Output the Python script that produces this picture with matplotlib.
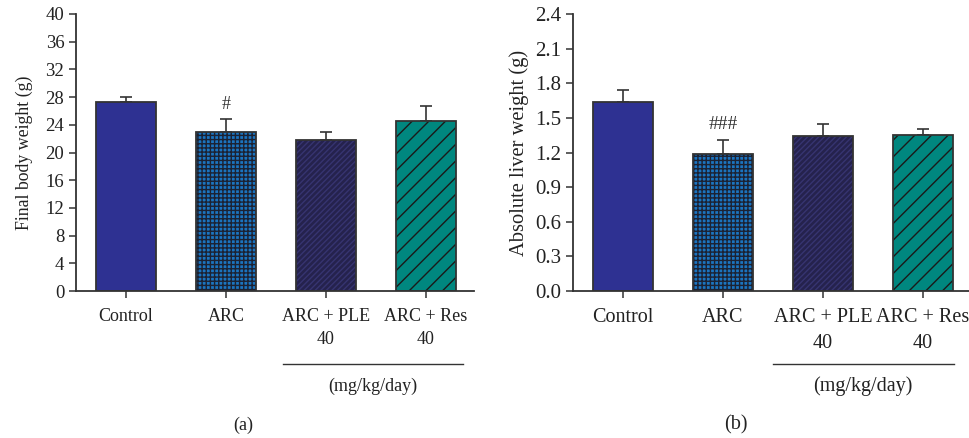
import matplotlib
matplotlib.use("Agg")
import matplotlib.pyplot as plt
import numpy as np

plt.rcParams['font.family'] = ['Liberation Serif', 'DejaVu Serif']

categories = ["Control", "ARC", "ARC + PLE\n40", "ARC + Res\n40"]
body_weight = [27.3, 23.0, 21.8, 24.5]
body_weight_err = [0.7, 1.9, 1.1, 2.2]
liver_weight = [1.64, 1.19, 1.346, 1.35]
liver_weight_err = [0.10, 0.12, 0.105, 0.05]
body_ticks = [0, 4, 8, 12, 16, 20, 24, 28, 32, 36, 40]
liver_ticks = [0.0, 0.3, 0.6, 0.9, 1.2, 1.5, 1.8, 2.1, 2.4]
dose_label = "(mg/kg/day)"

face_colors = ["#2e3192", "#1b74c0", "#25224d", "#00877f"]
hatch_colors = [None, "#1c2233", "#363470", "#1a1a1a"]
hatches = [None, "++++", "//////", "//"]
edge = "#333333"

fig = plt.figure(figsize=(9.7, 4.38), dpi=100)
W, H = 970, 438


def panel(rect, vals, errs, ticks, ylim, ylabel, tick_fs, lab_fs, ylab_fs, ylab_pad, fmt,
          sig, sig_y, sig_fs, xright, line_x, text_x, letter, letter_x):
    ax = fig.add_axes(rect)
    x = np.arange(len(vals))
    for i in range(len(vals)):
        ax.bar(x[i], vals[i], width=0.6, color=face_colors[i], linewidth=0, zorder=2)
        if hatches[i]:
            ax.bar(x[i], vals[i], width=0.6, facecolor="none", edgecolor=hatch_colors[i],
                   hatch=hatches[i], linewidth=0, zorder=3)
        ax.bar(x[i], vals[i], width=0.6, facecolor="none", edgecolor=edge,
               linewidth=1.3, zorder=4)
    ax.errorbar(x, vals, yerr=[np.zeros(len(vals)), errs], fmt="none", ecolor=edge,
                elinewidth=1.2, capsize=4, capthick=1.2, zorder=1)
    ax.set_xlim(-0.5, xright)
    ax.set_ylim(*ylim)
    ax.set_yticks(ticks)
    ax.set_yticklabels([fmt.format(t) for t in ticks], fontsize=tick_fs, color="#222222")
    ax.set_xticks(x)
    ax.set_xticklabels(categories, fontsize=lab_fs, color="#222222", linespacing=1.5)
    ax.set_ylabel(ylabel, fontsize=ylab_fs, color="#222222", labelpad=ylab_pad)
    for s in ["top", "right"]:
        ax.spines[s].set_visible(False)
    for s in ["left", "bottom"]:
        ax.spines[s].set_color(edge)
        ax.spines[s].set_linewidth(1.3)
    ax.tick_params(axis="both", direction="out", length=5, width=1.1, color=edge)
    ax.tick_params(axis="x", pad=7)
    ax.text(1, sig_y, sig, ha="center", va="center", fontsize=sig_fs, color="#333333")
    fig.add_artist(plt.Line2D([line_x[0] / W, line_x[1] / W], [1 - 364 / H, 1 - 364 / H],
                              color="#333333", linewidth=1.0))
    fig.text(text_x / W, 1 - 386 / H, dose_label, ha="center", va="center",
             fontsize=lab_fs, color="#222222")
    fig.text(letter_x / W, 1 - 425 / H, letter, ha="center", va="center",
             fontsize=lab_fs, color="#222222")
    return ax


panel([76 / W, 1 - 291 / H, 398 / W, 277 / H], body_weight, body_weight_err, body_ticks,
      (0, 40), "Final body weight (g)", 13.5, 13, 12.8, 9, "{:g}", "#", 26.9, 13,
      3.48, (283, 463), 373, "(a)", 243)
panel([572.7 / W, 1 - 291 / H, 397.3 / W, 277 / H], liver_weight, liver_weight_err, liver_ticks,
      (0, 2.4), "Absolute liver weight (g)", 15, 14.5, 14.8, 4, "{:.1f}", "###", 1.44, 14,
      3.47, (773, 954), 863, "(b)", 736)

fig.savefig("out.png", dpi=100)
